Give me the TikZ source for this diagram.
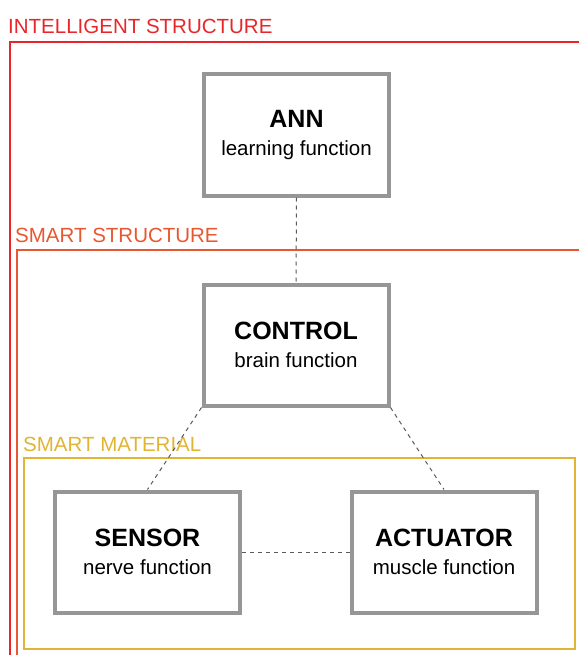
\documentclass[tikz,border=0pt]{standalone}
\usepackage{fontspec}
\setmainfont{Liberation Sans}
\usetikzlibrary{positioning}

\definecolor{intelred}{RGB}{232,38,42}
\definecolor{smartorange}{RGB}{232,88,48}
\definecolor{materialgold}{RGB}{226,180,52}
\definecolor{boxgray}{RGB}{150,150,150}
\definecolor{linkgray}{RGB}{90,90,90}

\begin{document}
\begin{tikzpicture}[x=1pt, y=-1pt,
    funcbox/.style={draw=boxgray, line width=4pt, fill=white,
        minimum width=185pt, minimum height=121pt, align=center,
        font=\fontsize{20.5}{28}\selectfont},
    grouplabel/.style={anchor=base west, inner sep=0pt,
        font=\fontsize{20.5}{24}\selectfont},
    link/.style={draw=linkgray, line width=1pt, dash pattern=on 4pt off 4pt}]
        % fix the page to the size of the reference
        \useasboundingbox (0,0) rectangle (579,655);
        % nested frames: colour, left edge, top edge, label
        \foreach \c/\l/\t/\txt in {intelred/9.5/42/INTELLIGENT STRUCTURE,
                                   smartorange/16.5/250/SMART STRUCTURE}{
            % open frame, running off the right and bottom edges
            \draw[\c, line width=2pt] (579,\t) -- (\l,\t) -- (\l,655);
            % label above the frame
            \node[grouplabel, text=\c] at (\l-1.5,\t-8) {\txt};
        }
        % innermost frame is closed
        \draw[materialgold, line width=2.5pt] (24,458) rectangle (575,649);
        \node[grouplabel, text=materialgold] (matlabel) at (23,451) {SMART MATERIAL};
        % function boxes
        \node[funcbox] (ann) at (296.5,135) {{\fontsize{25}{28}\selectfont\bfseries ANN}\\learning function};
        \node[funcbox] (control) at (296,345) {{\fontsize{25}{28}\selectfont\bfseries CONTROL}\\brain function};
        \node[funcbox] (sensor) at (147.5,552) {{\fontsize{25}{28}\selectfont\bfseries SENSOR}\\nerve function};
        \node[funcbox] (actuator) at (444,552) {{\fontsize{25}{28}\selectfont\bfseries ACTUATOR}\\muscle function};
        % dashed links between the boxes
        \draw[link] (ann.south) -- (control.north);
        \draw[link] (control.south west) -- (sensor.north);
        \draw[link] (control.south east) -- (actuator.north);
        \draw[link] (sensor.east) -- (actuator.west);
    \end{tikzpicture}
\end{document}
